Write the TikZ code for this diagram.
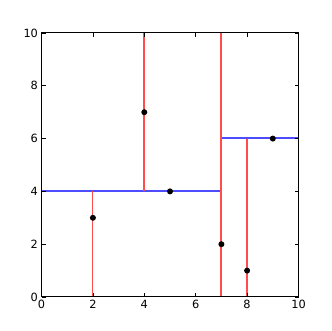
\documentclass[tikz,border=0pt]{standalone}
\usepackage{fontspec}
\setmainfont{DejaVu Sans}
\definecolor{splitred}{HTML}{FF4D4D}
\definecolor{splitblue}{HTML}{4D4DFF}
\begin{document}
\begin{tikzpicture}[x=0.75pt,y=0.75pt,
  frame/.style={draw=black,line width=0.75pt},
  vsplit/.style={draw=splitred,line width=1.2pt},
  hsplit/.style={draw=splitblue,line width=1.2pt},
  pt/.style={circle,fill=black,inner sep=0pt,minimum size=4.5pt},
  ticklab/.style={font=\fontsize{8.5}{10}\selectfont,inner sep=1.5pt},
  tickmark/.style={draw=black,line width=0.6pt}]
\useasboundingbox (0,0) rectangle (332,331);
\begin{scope}[shift={(41.5,34)},x=19.275pt,y=19.8pt]
  % splits
  \draw[hsplit] (0,4.02) -- (7,4.02);
  \draw[hsplit] (7,6.02) -- (10,6.02);
  \draw[vsplit] (1.99,0) -- (1.99,4);
  \draw[vsplit] (3.99,4) -- (3.99,10);
  \draw[vsplit] (6.99,0) -- (6.99,10);
  \draw[vsplit] (7.99,0) -- (7.99,6);
  % points
  \node[pt] (p1) at (2,3) {};
  \node[pt] (p2) at (4,7) {};
  \node[pt] (p3) at (5,4) {};
  \node[pt] (p4) at (7,2) {};
  \node[pt] (p5) at (8,1) {};
  \node[pt] (p6) at (9,6) {};
  % frame
  \draw[frame] (0,0) rectangle (10,10);
  % ticks
  \foreach \v in {0,2,4,6,8,10} {
    \draw[tickmark] (\v,0) -- ++(0,3pt);
    \draw[tickmark] (\v,10) -- ++(0,-3pt);
    \draw[tickmark] (0,\v) -- ++(3pt,0);
    \draw[tickmark] (10,\v) -- ++(-3pt,0);
    \node[ticklab,anchor=north] at (\v,-0.05) {\v};
    \node[ticklab,anchor=east] at (-0.05,\v) {\v};
  }
\end{scope}
\end{tikzpicture}
\end{document}
